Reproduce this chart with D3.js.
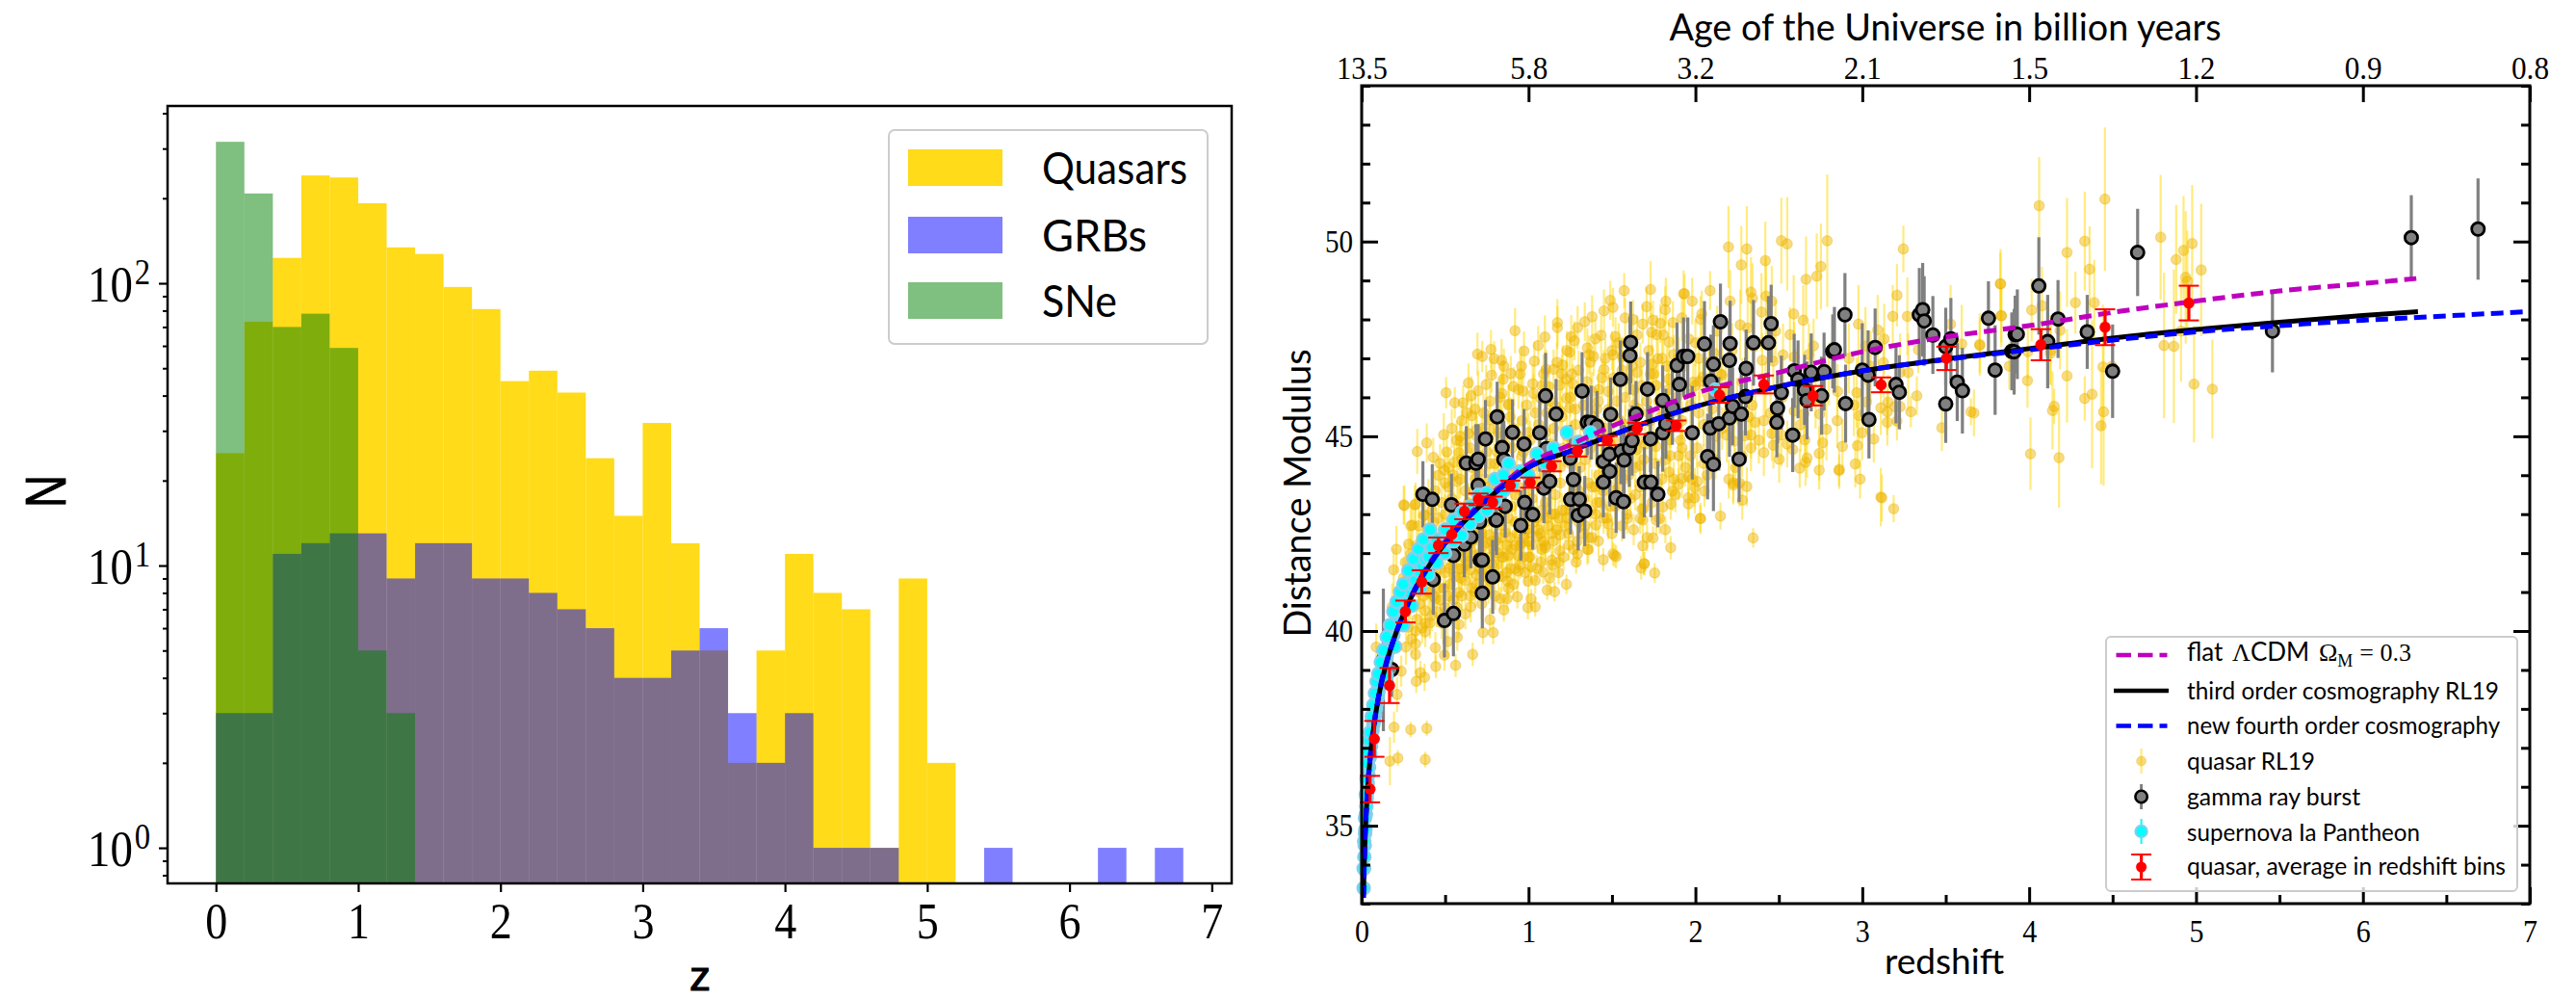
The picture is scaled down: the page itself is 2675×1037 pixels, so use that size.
<!DOCTYPE html>
<meta charset="utf-8">
<style>
    html, body { margin: 0; padding: 0; background: #fff; }
    svg { display: block; }
    .domain { display: none; }
</style>
<svg width="2675" height="1037"></svg>
<script src="https://cdn.jsdelivr.net/npm/d3@7"></script>
<script>

    // left panel: histogram counts in bins of 0.2 starting from z = 0
    var binWidth = 0.2;
    var quasarCounts = [25,73,123,241,237,192,134,127,97,81,45,49,41,24,15,32,12,5,2,5,11,8,7,1,9,2,0,0,0,0,0,0,0,0];
    var grbCounts = [3,3,11,12,13,13,9,12,12,9,9,8,7,6,4,4,5,6,3,2,3,1,1,1,0,0,0,1,0,0,0,1,0,1];
    var sneCounts = [317,208,70,78,59,5,3];
    var histLegend = ["Quasars", "GRBs", "SNe"];
    var histXTicks = [0,1,2,3,4,5,6,7];

    // right panel: top axis labels
    var ageLabels = ["13.5","5.8","3.2","2.1","1.5","1.2","0.9","0.8"];

    // right panel: model curves
    var curveZ = [0.01,0.015,0.02,0.03,0.05,0.07,0.1,0.15,0.2,0.25,0.3,0.4,0.5,0.6,0.7,0.8,1,1.25,1.5,1.75,2,2.5,3,3.5,4,4.5,5,5.5,6,6.33];
    var thirdOrder = [33.15,34.0,34.65,35.55,36.7,37.45,38.28,39.2,39.88,40.42,40.9,41.65,42.25,42.75,43.17,43.55,44.2,44.62,45.03,45.42,45.76,46.28,46.68,46.98,47.25,47.52,47.74,47.93,48.1,48.2];
    var fourthZ = [0.01,0.015,0.02,0.03,0.05,0.07,0.1,0.15,0.2,0.25,0.3,0.4,0.5,0.6,0.7,0.8,1,1.25,1.5,1.75,2,2.5,3,3.5,4,4.5,5,5.5,6,6.33,6.5,7];
    var fourthOrder = [33.15,34.0,34.65,35.55,36.7,37.45,38.28,39.2,39.88,40.42,40.9,41.65,42.25,42.75,43.17,43.55,44.2,44.62,45.03,45.42,45.76,46.28,46.68,46.97,47.22,47.47,47.68,47.84,47.98,48.05,48.09,48.2];
    var lcdmZ = [0.01,0.02,0.05,0.1,0.2,0.3,0.5,0.7,0.8,1,1.25,1.5,1.75,2,2.5,3,3.5,4,4.5,5,5.5,6,6.32];
    var lcdm = [33.15,34.65,36.7,38.28,39.88,40.92,42.3,43.22,43.6,44.28,44.78,45.26,45.68,46.1,46.64,47.17,47.55,47.84,48.18,48.47,48.73,48.92,49.05];

    // quasar averages in redshift bins: z, modulus, error
    var binnedQuasars = [
        [0.05,35.94,0.34],[0.076,37.23,0.46],[0.167,38.6,0.45],[0.262,40.5,0.28],[0.36,41.26,0.3],
        [0.46,42.2,0.2],[0.54,42.48,0.21],[0.616,43.07,0.2],[0.7,43.38,0.15],[0.785,43.3,0.15],
        [0.89,43.73,0.13],[1.01,43.81,0.13],[1.138,44.23,0.13],[1.293,44.62,0.14],[1.473,44.89,0.12],
        [1.651,45.2,0.145],[1.885,45.27,0.135],[2.145,46.06,0.2],[2.41,46.33,0.23],[2.705,46.04,0.25],
        [3.113,46.32,0.19],[3.504,47.0,0.3],[4.07,47.35,0.4],[4.455,47.8,0.46],[4.957,48.42,0.445]
    ];

    // gamma ray bursts: z, modulus, error
    var grbs = [
        [0.13,39.26,1.83],[0.179,39.01,0.7],[0.367,43.51,0.85],[0.423,43.38,0.9],[0.429,41.32,0.9],[0.496,40.27,0.95],[0.538,43.24,0.8],[0.55,40.45,1.1],[0.55,41.94,0.9],
        [0.615,42.23,0.85],[0.627,44.31,0.95],[0.654,42.41,0.8],[0.685,44.31,1.0],[0.698,44.41,0.9],[0.698,43.74,0.9],[0.707,42.8,0.85],[0.711,41.82,0.8],[0.723,41.82,0.9],[0.723,40.97,0.9],
        [0.742,44.93,1.0],[0.785,41.39,0.95],[0.804,42.85,0.8],[0.808,42.85,0.9],[0.812,45.5,0.9],[0.842,44.71,0.85],[0.852,44.4,1.0],[0.86,43.2,0.8],[0.904,45.1,0.85],[0.954,42.71,0.9],
        [0.973,44.8,0.9],[0.977,43.3,0.8],[1.025,42.99,0.9],[1.067,45.09,1.0],[1.092,43.67,0.9],[1.102,46.04,1.1],[1.106,44.68,0.95],[1.127,43.84,0.85],[1.165,45.57,0.9],
        [1.25,44.44,0.85],[1.252,43.38,0.9],[1.269,43.89,0.8],[1.298,42.97,0.9],[1.304,43.38,0.85],[1.321,46.16,1.0],[1.337,43.08,0.9],[1.352,45.36,0.85],[1.375,45.35,0.95],[1.41,45.26,0.9],
        [1.448,44.35,0.8],[1.448,43.82,0.9],[1.485,44.54,0.85],[1.487,44.1,0.9],[1.492,45.56,0.95],[1.525,43.42,0.9],[1.55,46.46,1.0],[1.554,44.62,0.85],[1.569,43.32,0.95],[1.573,44.39,0.9],
        [1.604,44.7,1.0],[1.608,47.07,1.0],[1.612,47.41,1.05],[1.621,44.89,0.9],[1.644,45.57,0.85],[1.694,43.82,0.9],[1.713,46.21,0.95],[1.731,44.93,0.85],[1.733,43.82,0.9],[1.775,43.51,0.85],
        [1.804,45.92,0.9],[1.804,45.09,1.0],[1.823,45.32,0.9],[1.862,45.73,0.95],[1.89,46.82,1.1],[1.904,46.33,0.9],[1.929,47.05,1.0],[1.954,47.05,1.0],[1.981,45.09,1.2],[2.054,47.37,1.1],
        [2.073,44.48,1.1],[2.088,45.21,0.9],[2.092,46.41,1.2],[2.108,46.85,1.0],[2.108,44.28,1.2],[2.14,45.32,1.2],[2.15,47.94,0.98],[2.204,46.95,1.0],[2.204,45.47,1.0],[2.208,47.38,1.1],
        [2.223,45.77,1.0],[2.262,44.41,1.1],[2.275,45.57,1.1],[2.3,46.02,1.0],[2.304,46.74,1.0],[2.348,47.4,1.1],[2.438,47.4,1.2],[2.454,47.89,1.0],[2.488,45.36,0.9],[2.492,45.72,0.9],
        [2.515,46.12,0.95],[2.583,45.03,0.95],[2.592,46.68,0.95],[2.615,46.46,1.0],[2.654,46.19,0.9],[2.669,45.92,1.0],[2.694,46.64,1.0],[2.756,46.04,1.0],[2.771,46.66,1.0],[2.823,47.18,0.95],
        [2.833,47.22,1.1],[2.896,48.12,1.07],[2.9,45.84,1.0],[3.0,46.7,1.2],[3.035,46.57,1.15],[3.04,45.43,1.0],[3.077,47.28,1.0],[3.202,46.33,1.0],[3.222,46.13,0.95],[3.342,48.12,1.2],
        [3.362,48.25,1.2],[3.371,47.96,1.15],[3.423,47.6,1.0],[3.5,45.83,1.0],[3.5,47.3,1.0],[3.531,47.5,1.05],[3.569,46.39,1.0],[3.6,46.17,1.1],[3.756,48.03,0.95],[3.796,46.7,1.15],
        [3.896,47.18,1.0],[3.91,47.17,1.1],[3.916,47.61,1.0],[3.929,47.62,1.15],[4.058,48.86,1.25],[4.111,47.43,1.2],[4.173,48.01,1.0],[4.348,47.68,0.95],[4.5,46.67,1.2],[4.65,49.72,1.12],
        [5.458,47.7,1.06],[6.29,50.1,1.09],[6.69,50.32,1.3]
    ];

    // supernovae Ia: z, modulus, error
    var supernovae = [
        [0.012,33.4,0.15],[0.014,33.9,0.15],[0.016,34.2,0.15],[0.018,34.5,0.15],[0.02,34.8,0.15],[0.022,34.9,0.15],[0.025,35.3,0.15],[0.028,35.5,0.15],[0.03,35.7,0.15],[0.033,35.85,0.15],
        [0.036,36.1,0.15],[0.04,36.3,0.15],[0.044,36.5,0.15],[0.048,36.75,0.15],[0.052,36.85,0.15],[0.056,37.05,0.15],[0.06,37.2,0.15],[0.065,37.45,0.15],[0.07,37.6,0.15],[0.075,37.7,0.15],
        [0.08,37.85,0.15],[0.085,38.0,0.15],[0.09,38.15,0.15],[0.095,38.3,0.15],[0.1,38.45,0.15],[0.11,38.6,0.15],[0.12,38.8,0.15],[0.13,39.0,0.15],[0.14,39.2,0.15],[0.15,39.35,0.15],
        [0.16,39.5,0.15],[0.17,39.7,0.15],[0.18,39.85,0.15],[0.19,39.9,0.15],[0.2,40.1,0.15],[0.21,40.2,0.15],[0.22,40.3,0.15],[0.23,40.45,0.15],[0.24,40.55,0.15],[0.25,40.6,0.15],
        [0.26,40.8,0.15],[0.27,40.85,0.15],[0.28,41.0,0.15],[0.3,41.2,0.15],[0.32,41.3,0.15],[0.34,41.55,0.15],[0.36,41.7,0.15],[0.38,41.85,0.15],[0.4,41.9,0.15],[0.42,42.15,0.15],
        [0.15,38.85,0.15],[0.2,39.6,0.15],[0.25,40.15,0.15],[0.3,40.65,0.15],[0.35,41.1,0.15],[0.4,41.45,0.15],[0.45,41.75,0.15],[0.5,42.0,0.15],[0.55,42.3,0.15],[0.6,42.45,0.15],
        [0.65,42.75,0.15],[0.7,42.95,0.15],[0.75,43.1,0.15],[0.45,42.35,0.15],[0.5,42.6,0.15],[0.55,42.85,0.15],[0.6,43.05,0.15],[0.65,43.2,0.15],[0.7,43.5,0.15],[0.75,43.55,0.15],
        [0.8,43.35,0.15],[0.85,43.6,0.15],[0.8,43.9,0.15],[0.85,44.0,0.15],[0.88,44.3,0.15],[0.9,43.75,0.15],[0.95,44.1,0.15],[1.0,44.0,0.15],[1.05,44.55,0.15],[1.1,44.3,0.15],
        [1.15,44.7,0.15],[1.23,45.1,0.15],[1.3,44.85,0.15],[1.37,45.1,0.15],[2.12,46.2,0.15],
        // upper edge of the low redshift band
        [0.012,33.9,0.15],[0.015,34.6,0.15],[0.02,35.2,0.15],[0.025,35.8,0.15],[0.03,36.2,0.15],[0.035,36.6,0.15],[0.04,36.9,0.15],[0.045,37.2,0.15],[0.05,37.4,0.15],[0.06,37.8,0.15],
        [0.07,38.1,0.15],[0.08,38.4,0.15],[0.09,38.7,0.15],[0.1,38.9,0.15],[0.115,39.2,0.15],[0.13,39.5,0.15],[0.15,39.85,0.15],[0.17,40.15,0.15],[0.19,40.5,0.15],[0.21,40.75,0.15],
        [0.23,41.0,0.15],[0.25,41.2,0.15],[0.28,41.55,0.15],[0.31,41.85,0.15],[0.34,42.1,0.15],[0.37,42.35,0.15],[0.41,42.6,0.15]
    ];

    // quasars RL19: z, modulus, error
    var quasars = [
        [0.087,39.59,0.6],[0.169,36.66,0.62],[0.183,40.62,0.6],[0.192,41.57,0.55],[0.194,37.53,0.4],[0.208,42.1,0.6],[0.212,38.37,0.45],[0.217,36.74,0.2],[0.237,38.97,0.4],[0.25,41.36,0.5],
        [0.252,43.24,0.5],[0.256,43.22,0.5],[0.262,41.77,0.5],[0.265,39.59,0.45],[0.281,42.23,0.45],[0.294,41.98,0.5],[0.294,42.7,0.5],[0.294,37.47,0.2],[0.304,42.72,0.55],[0.319,43.24,0.5],
        [0.323,43.26,0.55],[0.323,40.0,0.4],[0.323,39.67,0.45],[0.323,39.4,0.5],[0.327,38.71,0.3],[0.333,44.61,0.58],[0.342,42.7,0.5],[0.352,38.93,0.3],[0.362,40.08,0.4],[0.371,42.97,0.45],
        [0.377,38.81,0.35],[0.381,42.97,0.5],[0.381,40.52,0.5],[0.381,39.98,0.4],[0.381,36.7,0.2],[0.39,44.83,0.5],[0.39,37.5,0.2],[0.41,40.21,0.4],[0.429,44.46,0.5],[0.442,40.83,0.5],
        [0.442,39.57,0.4],[0.444,39.09,0.3],[0.492,45.04,0.55],[0.496,44.13,0.5],[0.496,39.38,0.4],[0.506,46.12,0.4],[0.515,39.73,0.45],[0.525,41.61,0.5],[0.554,44.33,0.5],[0.558,45.86,0.4],
        [0.563,39.12,0.3],[0.573,43.84,0.5],[0.573,39.84,0.35],[0.583,44.58,0.45],[0.583,40.17,0.35],[0.583,40.99,0.5],[0.592,44.87,0.5],[0.592,41.36,0.5],[0.608,45.86,0.45],[0.621,40.44,0.4],
        [0.64,46.37,0.5],[0.64,45.07,0.5],[0.65,41.57,0.45],[0.654,40.62,0.4],[0.656,46.04,0.5],[0.66,45.53,0.45],[0.665,39.4,0.3],[0.679,41.94,0.5],[0.688,45.16,0.5],[0.688,41.44,0.5],
        [0.694,47.11,0.55],[0.698,46.17,0.5],[0.723,47.05,0.4],[0.727,39.96,0.3],[0.746,46.33,0.5],[0.746,42.27,0.5],[0.765,45.42,0.5],[0.765,42.47,0.5],[0.769,40.29,0.3],[0.775,47.23,0.5],
        [0.779,46.57,0.45],[0.788,39.96,0.3],[0.794,46.99,0.45],[0.804,42.31,0.5],[0.823,45.57,0.5],[0.833,40.83,0.3],[0.838,46.95,0.55],[0.842,41.9,0.45],[0.848,46.46,0.5],[0.852,46.8,0.45],
        [0.852,40.54,0.3],[0.862,42.52,0.5],[0.871,40.83,0.3],[0.875,41.28,0.35],[0.881,45.83,0.5],[0.881,41.94,0.4],[0.894,46.61,0.45],[0.9,42.1,0.4],[0.91,46.28,0.5],[0.919,47.71,0.58],
        [0.933,40.88,0.3],[0.938,41.94,0.4],[0.938,41.54,0.35],[0.958,46.8,0.5],[0.958,42.27,0.45],[0.967,46.16,0.5],[0.973,47.19,0.5],[0.996,42.52,0.45],[0.996,40.6,0.3],[0.998,41.28,0.4],
        [1.015,40.83,0.25],[1.015,41.65,0.4],[1.025,46.35,0.5],[1.035,46.93,0.5],[1.04,40.62,0.25],[1.054,42.43,0.45],[1.058,47.33,0.5],[1.073,45.98,0.5],[1.073,41.77,0.35],[1.088,41.51,0.3],
        [1.098,47.55,0.55],[1.102,42.14,0.45],[1.106,46.72,0.5],[1.112,41.05,0.25],[1.121,46.27,0.5],[1.127,41.36,0.35],[1.14,41.82,0.35],[1.15,46.72,0.5],[1.15,42.31,0.45],[1.156,41.01,0.25],
        [1.16,45.77,0.5],[1.173,47.92,0.6],[1.173,47.79,0.55],[1.179,41.77,0.35],[1.188,46.31,0.5],[1.188,45.65,0.5],[1.188,42.47,0.4],[1.188,42.06,0.4],[1.204,46.83,0.5],[1.227,46.47,0.5],
        [1.227,45.98,0.5],[1.227,41.2,0.25],[1.242,42.21,0.4],[1.246,47.16,0.5],[1.246,45.73,0.5],[1.256,47.56,0.55],[1.265,46.35,0.5],[1.275,47.45,0.5],[1.285,41.77,0.3],[1.294,47.79,0.55],
        [1.294,41.98,0.35],[1.337,47.94,0.5],[1.352,47.27,0.5],[1.352,42.1,0.4],[1.358,42.09,0.35],[1.362,47.09,0.5],[1.381,48.07,0.55],[1.381,46.15,0.5],[1.39,47.05,0.5],[1.404,42.72,0.45],
        [1.419,45.9,0.5],[1.419,42.31,0.4],[1.435,47.59,0.5],[1.448,41.83,0.3],[1.452,48.22,0.55],[1.452,46.72,0.5],[1.477,46.15,0.5],[1.477,42.75,0.4],[1.49,48.49,0.5],[1.506,48.31,0.5],
        [1.506,47.09,0.5],[1.506,41.98,0.3],[1.515,41.94,0.3],[1.521,47.56,0.5],[1.525,41.91,0.3],[1.563,47.05,0.5],[1.573,48.74,0.45],[1.579,48.04,0.5],[1.592,46.47,0.5],[1.592,42.89,0.4],
        [1.627,48.0,0.5],[1.631,46.19,0.5],[1.65,46.64,0.5],[1.65,44.66,0.5],[1.669,44.25,0.5],[1.669,42.89,0.4],[1.675,41.62,0.3],[1.679,43.13,0.4],[1.685,47.88,0.5],[1.685,42.85,0.35],
        [1.685,42.19,0.3],[1.688,43.14,0.4],[1.692,41.73,0.3],[1.694,41.73,0.3],[1.708,48.33,0.5],[1.708,45.9,0.5],[1.731,48.77,0.73],[1.737,47.67,0.5],[1.742,46.85,0.5],[1.746,47.98,0.5],
        [1.746,42.39,0.3],[1.756,41.49,0.25],[1.765,46.31,0.5],[1.765,44.74,0.45],[1.765,42.85,0.4],[1.769,47.61,0.5],[1.775,46.99,0.5],[1.785,42.89,0.4],[1.804,43.18,0.45],[1.808,47.6,0.5],
        [1.819,48.25,0.6],[1.823,48.47,0.6],[1.842,47.42,0.5],[1.842,46.47,0.5],[1.842,44.91,0.5],[1.842,44.08,0.5],[1.852,43.26,0.4],[1.852,42.14,0.3],[1.862,43.59,0.5],[1.865,47.92,0.55],
        [1.9,44.5,0.5],[1.9,43.77,0.4],[1.919,48.04,0.6],[1.919,43.92,0.5],[1.929,48.66,0.6],[1.935,48.66,0.5],[1.958,43.96,0.5],[1.958,43.42,0.5],[1.958,43.26,0.4],[1.981,48.47,0.6],
        [1.987,46.39,0.5],[1.996,43.69,0.5],[1.996,43.42,0.4],[2.012,43.84,0.5],[2.025,46.41,0.5],[2.029,42.89,0.35],[2.031,48.0,0.6],[2.031,42.89,0.4],[2.038,48.14,0.6],[2.044,46.52,0.5],
        [2.054,43.59,0.4],[2.088,48.74,0.5],[2.112,47.13,0.7],[2.15,42.95,0.35],[2.159,46.57,0.7],[2.188,45.03,0.7],[2.198,49.86,1.05],[2.208,48.47,0.8],[2.227,43.8,0.5],[2.227,43.75,0.5],
        [2.233,44.87,0.6],[2.265,43.8,0.6],[2.269,47.86,0.9],[2.275,49.4,1.0],[2.281,43.36,0.5],[2.294,45.01,0.7],[2.308,49.81,1.1],[2.308,43.71,0.5],[2.313,47.78,1.0],[2.333,48.7,0.9],
        [2.333,45.03,0.6],[2.333,44.7,0.6],[2.342,48.54,0.9],[2.346,42.39,0.25],[2.358,45.36,0.7],[2.396,48.19,1.0],[2.4,46.95,0.7],[2.41,45.4,0.7],[2.41,44.58,0.6],[2.419,49.51,1.0],
        [2.423,48.6,1.0],[2.458,48.47,0.9],[2.458,45.07,0.7],[2.467,46.93,0.8],[2.467,44.77,0.6],[2.502,44.41,0.6],[2.515,50.02,1.1],[2.515,45.03,0.8],[2.525,47.09,0.8],[2.55,49.94,1.2],
        [2.567,47.61,0.7],[2.583,44.66,0.5],[2.589,48.14,1.0],[2.592,47.04,0.9],[2.592,45.65,0.8],[2.625,44.18,0.5],[2.646,47.98,0.9],[2.65,45.57,0.7],[2.656,44.91,0.7],[2.663,49.03,1.1],
        [2.66,44.33,0.6],[2.669,44.44,0.5],[2.708,47.32,0.7],[2.727,49.11,1.1],[2.742,44.56,0.7],[2.742,44.13,0.5],[2.746,45.57,0.8],[2.752,49.36,1.1],[2.762,44.83,0.6],[2.785,45.18,0.8],
        [2.79,50.02,1.7],[2.852,46.15,0.7],[2.861,44.12,0.4],[2.862,44.15,0.5],[2.881,44.74,0.7],[2.958,44.29,0.6],[2.967,46.12,0.9],[2.971,44.76,0.6],[2.977,47.88,1.0],[2.981,45.53,0.7],
        [2.987,43.9,0.5],[2.999,45.09,0.7],[3.019,47.32,1.0],[3.025,45.88,0.8],[3.069,44.93,0.6],[3.092,47.73,0.9],[3.111,45.73,0.7],[3.111,43.44,0.75],[3.117,43.42,0.6],[3.127,46.89,0.9],
        [3.131,47.5,0.9],[3.15,45.63,0.6],[3.15,45.36,0.6],[3.154,45.88,0.7],[3.183,48.08,0.8],[3.188,43.14,0.35],[3.196,45.76,0.5],[3.208,48.62,0.8],[3.208,45.39,0.5],[3.227,46.64,1.0],
        [3.227,45.76,0.6],[3.246,49.81,0.6],[3.27,48.08,1.0],[3.275,46.64,1.0],[3.291,45.63,0.4],[3.327,46.04,0.5],[3.336,47.22,0.6],[3.477,45.22,0.6],[3.529,47.88,1.0],[3.596,47.37,1.0],
        [3.651,45.63,0.35],[3.669,45.6,0.6],[3.704,47.33,0.7],[3.704,47.36,0.8],[3.827,48.92,0.8],[3.829,48.91,0.9],[3.833,48.1,0.7],[3.833,48.09,0.8],[3.881,46.8,0.6],[3.99,46.43,0.7],
        [3.992,47.17,0.7],[4.008,44.55,0.93],[4.015,48.24,0.8],[4.06,50.92,1.25],[4.077,48.35,1.0],[4.127,47.13,0.8],[4.13,47.21,0.9],[4.14,45.66,1.0],[4.15,45.77,0.45],[4.179,44.45,1.28],
        [4.185,47.72,1.0],[4.227,49.72,1.4],[4.227,46.55,1.2],[4.277,48.43,0.8],[4.333,50.01,1.27],[4.333,45.97,0.57],[4.362,49.29,1.1],[4.377,46.08,1.9],[4.39,48.43,1.1],[4.431,45.27,1.5],
        [4.442,46.78,1.6],[4.446,45.63,1.9],[4.454,51.09,1.84],[4.496,46.8,0.6],[4.788,50.11,1.6],[4.808,47.33,1.87],[4.867,47.31,1.97],[4.881,49.54,1.4],[4.91,47.7,1.3],[4.925,49.77,1.4],
        [4.938,49.08,1.7],[4.948,48.98,1.3],[4.977,49.95,1.5],[4.988,46.34,1.5],[5.031,49.27,1.7],[5.098,46.21,1.27],
        // the dense middle of the cloud, estimated
        [0.28,40.1,0.5],[0.31,41.4,0.5],[0.34,41.0,0.5],[0.36,42.1,0.5],[0.39,41.3,0.5],[0.4,42.6,0.5],[0.42,43.1,0.5],[0.43,40.9,0.5],[0.45,42.0,0.5],[0.46,44.0,0.5],
        [0.47,41.6,0.5],[0.48,43.3,0.5],[0.49,42.6,0.5],[0.5,40.6,0.45],[0.51,44.6,0.5],[0.52,43.7,0.5],[0.53,42.0,0.45],[0.54,45.2,0.5],[0.55,43.1,0.5],[0.56,41.4,0.45],
        [0.57,44.9,0.5],[0.58,42.6,0.5],[0.59,43.9,0.5],[0.6,45.4,0.5],[0.61,41.9,0.45],[0.62,44.3,0.5],[0.63,43.0,0.5],[0.64,42.3,0.45],[0.65,44.7,0.5],[0.66,41.1,0.4],
        [0.67,43.6,0.5],[0.68,45.7,0.5],[0.69,42.7,0.5],[0.7,44.1,0.5],[0.71,41.6,0.45],[0.72,45.2,0.5],[0.73,42.2,0.45],[0.74,43.9,0.5],[0.75,44.6,0.5],[0.76,41.1,0.4],
        [0.77,45.9,0.5],[0.78,42.9,0.5],[0.79,43.7,0.5],[0.8,44.3,0.5],[0.81,41.7,0.45],[0.82,45.1,0.5],[0.83,42.4,0.45],[0.84,46.1,0.5],[0.85,43.2,0.5],[0.86,44.8,0.5],
        [0.87,41.5,0.4],[0.88,42.9,0.45],[0.89,45.5,0.5],[0.9,44.2,0.5],[0.91,41.2,0.35],[0.92,43.5,0.5],[0.93,42.5,0.45],[0.94,45.0,0.5],[0.95,46.6,0.5],[0.96,44.5,0.5],
        [0.97,41.9,0.4],[0.98,43.0,0.45],[0.99,45.8,0.5],[1.0,42.3,0.45],[1.01,44.9,0.5],[1.02,43.4,0.5],[1.03,46.1,0.5],[1.04,41.3,0.35],[1.05,42.9,0.45],[1.06,45.3,0.5],
        [1.07,44.4,0.5],[1.08,42.1,0.4],[1.09,46.6,0.5],[1.1,43.3,0.5],[1.11,45.6,0.5],[1.12,42.7,0.45],[1.13,44.8,0.5],[1.14,41.7,0.35],[1.15,45.2,0.5],[1.16,43.5,0.5],
        [1.17,46.9,0.5],[1.18,42.9,0.45],[1.19,44.2,0.5],[1.2,45.5,0.5],[1.21,41.9,0.35],[1.22,43.1,0.45],[1.23,47.2,0.5],[1.24,42.5,0.4],[1.25,46.0,0.5],[1.26,44.9,0.5],
        [1.27,43.6,0.5],[1.28,45.3,0.5],[1.29,42.3,0.4],[1.3,46.7,0.5],[1.31,44.2,0.5],[1.32,43.0,0.45],[1.33,45.8,0.5],[1.34,42.7,0.4],[1.35,46.4,0.5],[1.36,43.8,0.5],
        [1.37,44.7,0.5],[1.38,42.4,0.4],[1.39,45.5,0.5],[1.4,47.5,0.5],[1.41,43.3,0.45],[1.42,46.2,0.5],[1.43,44.3,0.5],[1.44,45.0,0.5],[1.45,42.9,0.4],[1.46,47.0,0.5],
        [1.47,43.8,0.5],[1.48,45.7,0.5],[1.49,44.8,0.5],[1.5,42.5,0.4],[1.51,46.5,0.5],[1.52,43.2,0.45],[1.53,44.1,0.5],[1.54,47.4,0.5],[1.55,45.4,0.5],[1.56,42.7,0.4],
        [1.57,43.9,0.45],[1.58,46.0,0.5],[1.59,44.6,0.5],[1.6,45.1,0.5],[1.61,43.4,0.45],[1.62,46.8,0.5],[1.63,42.6,0.4],[1.64,44.2,0.5],[1.65,47.6,0.5],[1.66,45.7,0.5],
        [1.67,43.7,0.45],[1.68,46.3,0.5],[1.7,44.8,0.5],[1.71,42.4,0.35],[1.72,47.2,0.5],[1.73,45.4,0.5],[1.74,43.3,0.45],[1.75,46.6,0.5],[1.76,44.3,0.5],[1.78,45.9,0.5],
        [1.79,47.9,0.5],[1.8,43.9,0.45],[1.81,45.1,0.5],[1.82,42.6,0.35],[1.83,46.8,0.5],[1.85,44.5,0.5],[1.86,45.6,0.5],[1.87,47.1,0.5],[1.88,43.5,0.45],[1.89,46.0,0.5],
        [1.91,44.9,0.5],[1.92,45.4,0.5],[1.93,46.8,0.5],[1.94,44.2,0.5],[1.96,47.5,0.55],[1.97,45.8,0.5],[1.98,43.9,0.5],[2.0,46.3,0.55],[2.01,44.7,0.5],[2.02,47.0,0.55],
        [2.05,45.3,0.55],[2.07,44.0,0.5],[2.08,46.9,0.6],[2.1,45.7,0.55],[2.12,44.4,0.5],[2.13,47.7,0.65],[2.16,45.2,0.55],[2.18,46.2,0.6],[2.2,43.9,0.5],[2.22,47.2,0.7],
        [2.25,45.9,0.6],[2.28,44.5,0.55],[2.3,46.7,0.7],[2.32,45.5,0.6],[2.35,47.3,0.7],[2.38,44.9,0.6],[2.42,46.2,0.7],[2.45,45.6,0.65],[2.48,47.7,0.8],[2.52,46.0,0.7],
        [2.55,44.8,0.6],[2.6,46.5,0.75],[2.63,45.3,0.7],[2.68,47.1,0.8],[2.72,45.9,0.7],[2.8,46.6,0.8],[2.85,45.4,0.7],[2.92,47.0,0.9],[2.95,45.8,0.8],[3.05,46.8,0.9],
        // more of the same cloud, estimated
        [0.33,42.2,0.5],[0.35,40.7,0.45],[0.37,41.9,0.5],[0.38,42.4,0.5],[0.4,43.4,0.5],[0.41,41.0,0.45],[0.43,42.8,0.5],[0.44,43.6,0.5],[0.44,41.4,0.45],[0.46,42.9,0.5],
        [0.47,44.3,0.5],[0.48,40.2,0.4],[0.49,41.1,0.45],[0.5,43.0,0.5],[0.5,43.8,0.5],[0.52,44.2,0.5],[0.52,42.4,0.45],[0.53,41.2,0.45],[0.54,43.4,0.5],[0.55,44.0,0.5],
        [0.56,42.2,0.45],[0.57,40.6,0.4],[0.58,43.2,0.5],[0.59,45.0,0.5],[0.6,41.6,0.45],[0.6,44.4,0.5],[0.61,42.8,0.5],[0.62,43.6,0.5],[0.63,45.6,0.5],[0.64,41.8,0.45],
        [0.64,43.3,0.5],[0.65,42.1,0.45],[0.66,44.2,0.5],[0.67,42.6,0.5],[0.68,41.0,0.4],[0.68,43.9,0.5],[0.69,45.0,0.5],[0.7,41.9,0.45],[0.7,42.4,0.45],[0.71,44.5,0.5],
        [0.72,43.4,0.5],[0.72,40.7,0.4],[0.73,45.6,0.5],[0.74,42.8,0.5],[0.75,41.4,0.4],[0.75,45.0,0.5],[0.76,43.7,0.5],[0.77,44.3,0.5],[0.77,41.9,0.4],[0.78,42.3,0.45],
        [0.79,45.2,0.5],[0.8,43.0,0.5],[0.8,40.9,0.35],[0.81,44.6,0.5],[0.82,41.4,0.4],[0.82,43.9,0.5],[0.83,46.0,0.5],[0.84,42.7,0.45],[0.85,45.0,0.5],[0.85,41.9,0.4],
        [0.86,43.6,0.5],[0.87,44.3,0.5],[0.88,41.1,0.35],[0.88,45.8,0.5],[0.89,42.4,0.45],[0.9,44.7,0.5],[0.9,43.2,0.5],[0.91,45.2,0.5],[0.92,41.6,0.4],[0.92,42.8,0.45],
        [0.93,44.0,0.5],[0.94,46.2,0.5],[0.94,43.7,0.5],[0.95,42.2,0.4],[0.96,45.4,0.5],[0.97,43.3,0.5],[0.97,44.6,0.5],[0.98,41.5,0.35],[0.99,42.6,0.45],[1.0,45.1,0.5],
        [1.0,43.6,0.5],[1.01,41.9,0.4],[1.02,44.2,0.5],[1.03,42.8,0.45],[1.04,45.6,0.5],[1.05,43.8,0.5],[1.05,41.6,0.35],[1.06,44.6,0.5],[1.07,42.5,0.45],[1.08,46.3,0.5],
        [1.08,43.1,0.5],[1.09,44.0,0.5],[1.1,45.1,0.5],[1.1,42.2,0.4],[1.12,43.7,0.5],[1.13,45.9,0.5],[1.14,42.5,0.4],[1.15,44.4,0.5],[1.16,43.0,0.45],[1.17,45.5,0.5],
        [1.18,41.5,0.3],[1.19,43.8,0.5],[1.2,46.6,0.5],[1.21,44.7,0.5],[1.22,42.7,0.4],[1.23,45.0,0.5],[1.24,43.4,0.45],[1.25,44.3,0.5],[1.26,46.6,0.5],[1.27,42.1,0.35],
        [1.28,45.7,0.5],[1.29,43.9,0.5],[1.3,42.8,0.4],[1.31,44.9,0.5],[1.32,46.2,0.5],[1.33,43.4,0.45],[1.34,44.4,0.5],[1.35,45.2,0.5],[1.36,42.4,0.35],[1.37,46.9,0.5],
        [1.38,43.7,0.45],[1.39,44.9,0.5],[1.4,43.0,0.4],[1.41,45.7,0.5],[1.42,44.0,0.5],[1.44,46.5,0.5],[1.45,43.6,0.45],[1.46,45.2,0.5],[1.47,44.4,0.5],[1.49,43.2,0.4],
        [1.5,47.2,0.5],[1.51,44.9,0.5],[1.53,45.9,0.5],[1.54,43.7,0.45],[1.55,44.3,0.5],[1.56,46.7,0.5],[1.58,45.3,0.5],[1.59,43.0,0.4],[1.6,44.0,0.45],[1.61,47.0,0.5],
        [1.63,45.8,0.5],[1.64,43.5,0.4],[1.66,44.9,0.5],[1.67,46.9,0.5],[1.69,44.4,0.45],[1.7,43.9,0.45],[1.72,45.6,0.5],[1.73,46.6,0.5],[1.75,44.9,0.5],[1.77,43.8,0.4],
        [1.79,45.5,0.5],[1.8,47.0,0.5],[1.82,44.4,0.5],[1.84,46.2,0.5],[1.85,45.2,0.5],[1.87,43.9,0.45],[1.9,47.0,0.55],[1.92,44.7,0.5],[1.95,46.1,0.5],[1.97,44.5,0.5],
        [2.0,47.4,0.6],[2.02,45.6,0.55],[2.05,44.3,0.5],[2.08,46.0,0.55],[2.12,45.0,0.55],[2.15,46.6,0.6],[2.2,45.6,0.6],[2.24,44.2,0.5],[2.28,46.4,0.6],[2.34,45.8,0.6],
        // lower part of the cloud near the curve
        [0.26,40.9,0.45],[0.27,41.3,0.45],[0.29,40.6,0.45],[0.3,39.8,0.4],[0.3,41.0,0.45],[0.32,41.7,0.45],[0.33,40.3,0.4],[0.35,41.4,0.45],[0.37,40.9,0.4],[0.38,40.2,0.4],
        [0.4,41.0,0.45],[0.4,41.9,0.45],[0.42,40.4,0.4],[0.44,42.1,0.45],[0.45,40.5,0.4],[0.46,41.1,0.45],[0.47,40.8,0.4],[0.48,42.3,0.45],[0.5,41.5,0.45],[0.52,40.9,0.4],
        [0.54,41.7,0.45],[0.55,40.8,0.4],[0.57,42.0,0.45],[0.58,41.6,0.45],[0.6,40.9,0.4],[0.62,41.3,0.4],[0.63,41.7,0.45],[0.65,40.9,0.4],[0.66,42.3,0.45],[0.69,41.2,0.4],
        [0.71,42.0,0.45],[0.72,42.5,0.45],[0.74,41.6,0.4],[0.77,41.3,0.4],[0.78,41.7,0.4],[0.79,42.1,0.45],[0.82,42.0,0.4],[0.84,41.4,0.4],[0.87,42.2,0.4],[0.89,41.6,0.35],
        [0.92,42.2,0.4],[0.95,41.7,0.35],[0.97,42.4,0.4],[1.0,41.9,0.35],[1.02,42.2,0.4],[1.06,42.6,0.4],[1.09,42.3,0.4],[1.11,42.9,0.4],[1.14,43.0,0.45],[1.17,42.6,0.4],
        [1.2,43.1,0.45],[1.23,42.9,0.4],[1.26,43.2,0.45],[1.3,43.6,0.45],[1.33,42.5,0.35],[1.37,43.1,0.4],[1.4,43.7,0.45],[1.43,43.3,0.4],[1.47,42.9,0.35],[1.51,43.6,0.4]
    ];

    var fontMath = "'Liberation Serif', serif";
    var fontSans = "Lato, 'Open Sans', sans-serif";
    var fontLabel = "'Liberation Sans', sans-serif";

    var svg = d3.select("svg");

    function addText(g, x, y, str, size, family, width, anchor) {
        var t = g.append("text")
            .attr("x", x)
            .attr("y", y)
            .attr("font-family", family)
            .attr("font-size", size)
            .attr("text-anchor", anchor || "start")
            .attr("fill", "#000")
            .text(str);
        if (width) t.attr("textLength", width).attr("lengthAdjust", "spacingAndGlyphs");
        return t;
    }

    function styleAxis(sel, width) {
        sel.selectAll(".tick line").attr("stroke", "#000").attr("stroke-width", width);
    }

    // ---------- left panel ----------
    var left = svg.append("g");

    var histX = d3.scaleLinear().domain([-0.34, 7.14]).range([174, 1279]);
    var histY = d3.scaleLog().domain([Math.pow(10, -0.126), Math.pow(10, 2.628)]).range([917, 110]);

    function drawBars(counts, colour, opacity) {
        left.append("g").selectAll("rect")
            .data(counts.map(function(c, i) { return {i: i, c: c}; }).filter(function(d) { return d.c > 0; }))
            .enter().append("rect")
            .attr("x", function(d) { return histX(d.i * binWidth); })
            .attr("width", function(d) { return histX((d.i + 1) * binWidth) - histX(d.i * binWidth); })
            .attr("y", function(d) { return histY(d.c); })
            .attr("height", function(d) { return 917 - histY(d.c); })
            .attr("fill", colour)
            .attr("fill-opacity", opacity);
    }

    drawBars(quasarCounts, "#ffd700", 0.9);
    drawBars(grbCounts, "#0000ff", 0.5);
    drawBars(sneCounts, "#008000", 0.5);

    left.append("rect").attr("x", 174).attr("y", 110).attr("width", 1105).attr("height", 807)
        .attr("fill", "none").attr("stroke", "#000").attr("stroke-width", 2.5);

    var histXAxis = left.append("g").attr("transform", "translate(0,917)")
        .call(d3.axisBottom(histX).tickValues(histXTicks).tickSize(9).tickSizeOuter(0).tickPadding(6));
    styleAxis(histXAxis, 2.2);
    histXAxis.selectAll("text")
        .attr("font-family", fontMath).attr("font-size", 53).attr("fill", "#000")
        .attr("y", 19)
        .attr("textLength", 23).attr("lengthAdjust", "spacingAndGlyphs");

    var logMinor = [0.8,0.9,2,3,4,5,6,7,8,9,20,30,40,50,60,70,80,90,200,300,400];
    var logMajor = [1,10,100];
    var histYMinor = left.append("g").attr("transform", "translate(174,0)")
        .call(d3.axisLeft(histY).tickValues(logMinor).tickSize(5).tickFormat("").tickSizeOuter(0));
    styleAxis(histYMinor, 2);
    var histYMajor = left.append("g").attr("transform", "translate(174,0)")
        .call(d3.axisLeft(histY).tickValues(logMajor).tickSize(9).tickFormat("").tickSizeOuter(0));
    styleAxis(histYMajor, 2.2);

    logMajor.forEach(function(v, i) {
        var t = addText(left, 156, histY(v) + 19, "10", 53, fontMath, 65, "end");
        t.append("tspan").attr("font-size", 37).attr("dy", -18).attr("dx", 2).text(String(i));
    });

    addText(left, 0, 0, "N", 60, fontLabel, 34, "middle")
        .attr("transform", "translate(68,510) rotate(-90)")
        .attr("stroke", "#000").attr("stroke-width", 0.8);
    addText(left, 727, 1028, "z", 42, fontLabel, 22, "middle").attr("stroke", "#000").attr("stroke-width", 1);

    // hist legend
    var histLegendG = left.append("g");
    histLegendG.append("rect").attr("x", 923).attr("y", 135).attr("width", 331).attr("height", 222).attr("rx", 6)
        .attr("fill", "#fff").attr("fill-opacity", 0.8).attr("stroke", "#ccc").attr("stroke-width", 2);
    var histSwatch = [["#ffd700", 0.9, 174, 151], ["#0000ff", 0.5, 244, 109], ["#008000", 0.5, 312, 78]];
    histSwatch.forEach(function(s, i) {
        histLegendG.append("rect").attr("x", 943).attr("y", s[2] - 19).attr("width", 98).attr("height", 38)
            .attr("fill", s[0]).attr("fill-opacity", s[1]);
        addText(histLegendG, 1082, s[2] + 17, histLegend[i], 47, fontSans, s[3]);
    });

    // ---------- right panel ----------
    var right = svg.append("g");

    var x = d3.scaleLinear().domain([0, 7]).range([1414, 2627]);
    var y = d3.scaleLinear().domain([33, 54]).range([938, 89]);

    function px(d) { return x(d[0]); }
    function py(d) { return y(d[1]); }

    function errorLines(rows, colour, opacity, width) {
        right.append("g").selectAll("line").data(rows).enter().append("line")
            .attr("x1", px).attr("x2", px)
            .attr("y1", function(d) { return y(d[1] - d[2]); })
            .attr("y2", function(d) { return y(d[1] + d[2]); })
            .attr("stroke", colour).attr("stroke-opacity", opacity).attr("stroke-width", width);
    }

    errorLines(quasars, "#ffd700", 0.5, 2.2);
    right.append("g").selectAll("circle").data(quasars).enter().append("circle")
        .attr("cx", px).attr("cy", py).attr("r", 5.3)
        .attr("fill", "#eeb500").attr("fill-opacity", 0.48)
        .attr("stroke", "#e8b000").attr("stroke-opacity", 0.35).attr("stroke-width", 1.2);

    errorLines(grbs, "#808080", 1, 3.2);
    right.append("g").selectAll("circle").data(grbs).enter().append("circle")
        .attr("cx", px).attr("cy", py).attr("r", 6.6)
        .attr("fill", "#808080").attr("stroke", "#000").attr("stroke-width", 2.8);

    errorLines(supernovae, "#00ffff", 1, 2);
    right.append("g").selectAll("circle").data(supernovae).enter().append("circle")
        .attr("cx", px).attr("cy", py).attr("r", 6.4)
        .attr("fill", "#00ffff").attr("stroke", "#87ceeb").attr("stroke-width", 2.4);

    function curve(zs, mus, colour, dash) {
        var line = d3.line()
            .x(function(d) { return x(d[0]); })
            .y(function(d) { return y(d[1]); })
            .curve(d3.curveMonotoneX);
        var p = right.append("path")
            .attr("d", line(zs.map(function(z, i) { return [z, mus[i]]; })))
            .attr("fill", "none").attr("stroke", colour).attr("stroke-width", 5);
        if (dash) p.attr("stroke-dasharray", dash);
    }

    curve(lcdmZ, lcdm, "#bf00bf", "13,7");
    curve(curveZ, thirdOrder, "#000", null);
    curve(fourthZ, fourthOrder, "#0000ff", "13,7");

    // binned quasars with caps
    errorLines(binnedQuasars, "#ff0000", 1, 3.2);
    var caps = right.append("g");
    [-1, 1].forEach(function(side) {
        caps.selectAll("line.cap" + side).data(binnedQuasars).enter().append("line")
            .attr("class", "cap" + side)
            .attr("x1", function(d) { return x(d[0]) - 10.5; })
            .attr("x2", function(d) { return x(d[0]) + 10.5; })
            .attr("y1", function(d) { return y(d[1] + side * d[2]); })
            .attr("y2", function(d) { return y(d[1] + side * d[2]); })
            .attr("stroke", "#ff0000").attr("stroke-width", 2);
    });
    right.append("g").selectAll("circle").data(binnedQuasars).enter().append("circle")
        .attr("cx", px).attr("cy", py).attr("r", 5.8).attr("fill", "#ff0000");

    // frame and axes
    right.append("rect").attr("x", 1414).attr("y", 89).attr("width", 1213).attr("height", 849)
        .attr("fill", "none").attr("stroke", "#000").attr("stroke-width", 3);

    var majorX = d3.range(0, 8);
    var minorX = [0.5,1.5,2.5,3.5,4.5,5.5,6.5];
    var majorY = [35,40,45,50];
    var minorY = d3.range(33, 55).filter(function(v) { return majorY.indexOf(v) < 0; });

    var xBottom = right.append("g").attr("transform", "translate(0,938)")
        .call(d3.axisBottom(x).tickValues(majorX).tickSizeInner(-17).tickSizeOuter(0).tickPadding(8).tickFormat(d3.format("d")));
    styleAxis(xBottom, 3);
    xBottom.selectAll("text").attr("font-family", fontMath).attr("font-size", 33).attr("fill", "#000")
        .attr("y", 17).attr("textLength", 15).attr("lengthAdjust", "spacingAndGlyphs");
    var xBottomMinor = right.append("g").attr("transform", "translate(0,938)")
        .call(d3.axisBottom(x).tickValues(minorX).tickSizeInner(-9).tickSizeOuter(0).tickFormat(""));
    styleAxis(xBottomMinor, 3);

    var xTop = right.append("g").attr("transform", "translate(0,89)")
        .call(d3.axisTop(x).tickValues(majorX).tickSizeInner(-17).tickSizeOuter(0).tickPadding(7)
            .tickFormat(function(d, i) { return ageLabels[i]; }));
    styleAxis(xTop, 3);
    xTop.selectAll("text").attr("font-family", fontMath).attr("font-size", 33).attr("fill", "#000")
        .attr("y", -7)
        .attr("textLength", function(d, i) { return ageLabels[i].length > 3 ? 53 : 39; })
        .attr("lengthAdjust", "spacingAndGlyphs");

    var yLeft = right.append("g").attr("transform", "translate(1414,0)")
        .call(d3.axisLeft(y).tickValues(majorY).tickSizeInner(-17).tickSizeOuter(0).tickPadding(9).tickFormat(d3.format("d")));
    styleAxis(yLeft, 3);
    yLeft.selectAll("text").attr("font-family", fontMath).attr("font-size", 33).attr("fill", "#000")
        .attr("textLength", 29).attr("lengthAdjust", "spacingAndGlyphs");
    var yLeftMinor = right.append("g").attr("transform", "translate(1414,0)")
        .call(d3.axisLeft(y).tickValues(minorY).tickSizeInner(-9).tickSizeOuter(0).tickFormat(""));
    styleAxis(yLeftMinor, 3);

    var yRight = right.append("g").attr("transform", "translate(2627,0)")
        .call(d3.axisRight(y).tickValues(majorY).tickSizeInner(-17).tickSizeOuter(0).tickFormat(""));
    styleAxis(yRight, 3);
    var yRightMinor = right.append("g").attr("transform", "translate(2627,0)")
        .call(d3.axisRight(y).tickValues(minorY).tickSizeInner(-9).tickSizeOuter(0).tickFormat(""));
    styleAxis(yRightMinor, 3);

    // axis titles
    addText(right, 2020, 42, "Age of the Universe in billion years", 38, fontSans, 573, "middle");
    addText(right, 2019, 1011, "redshift", 36, fontSans, 124, "middle");
    addText(right, 0, 0, "Distance Modulus", 38, fontSans, 299, "middle")
        .attr("transform", "translate(1361,512) rotate(-90)");

    // legend
    var lg = right.append("g");
    lg.append("rect").attr("x", 2187).attr("y", 661).attr("width", 427).attr("height", 264).attr("rx", 5)
        .attr("fill", "#fff").attr("fill-opacity", 0.8).attr("stroke", "#ccc").attr("stroke-width", 2);

    var handleX = 2223.6;
    lg.append("line").attr("x1", 2197.5).attr("x2", 2250.5).attr("y1", 680).attr("y2", 680)
        .attr("stroke", "#bf00bf").attr("stroke-width", 4.5).attr("stroke-dasharray", "15.5,7");
    lg.append("line").attr("x1", 2195).attr("x2", 2252).attr("y1", 717).attr("y2", 717)
        .attr("stroke", "#000").attr("stroke-width", 4.5);
    lg.append("line").attr("x1", 2197.5).attr("x2", 2250.5).attr("y1", 753.5).attr("y2", 753.5)
        .attr("stroke", "#0000ff").attr("stroke-width", 4.5).attr("stroke-dasharray", "15.5,7");

    lg.append("line").attr("x1", handleX).attr("x2", handleX).attr("y1", 777).attr("y2", 803)
        .attr("stroke", "#ffd700").attr("stroke-opacity", 0.5).attr("stroke-width", 2.2);
    lg.append("circle").attr("cx", handleX).attr("cy", 790).attr("r", 5)
        .attr("fill", "#eeb500").attr("fill-opacity", 0.5).attr("stroke", "#e8b000").attr("stroke-opacity", 0.3);
    lg.append("line").attr("x1", handleX).attr("x2", handleX).attr("y1", 814).attr("y2", 840)
        .attr("stroke", "#808080").attr("stroke-width", 3);
    lg.append("circle").attr("cx", handleX).attr("cy", 827).attr("r", 6.2)
        .attr("fill", "#808080").attr("stroke", "#000").attr("stroke-width", 2.6);
    lg.append("line").attr("x1", handleX).attr("x2", handleX).attr("y1", 850).attr("y2", 876)
        .attr("stroke", "#00ffff").attr("stroke-width", 2);
    lg.append("circle").attr("cx", handleX).attr("cy", 863).attr("r", 6.2)
        .attr("fill", "#00ffff").attr("stroke", "#87ceeb").attr("stroke-width", 2);
    lg.append("line").attr("x1", handleX).attr("x2", handleX).attr("y1", 887).attr("y2", 913)
        .attr("stroke", "#ff0000").attr("stroke-width", 3.2);
    [887, 913].forEach(function(v) {
        lg.append("line").attr("x1", handleX - 10.5).attr("x2", handleX + 10.5).attr("y1", v).attr("y2", v)
            .attr("stroke", "#ff0000").attr("stroke-width", 2);
    });
    lg.append("circle").attr("cx", handleX).attr("cy", 900).attr("r", 5.5).attr("fill", "#ff0000");

    var flat = addText(lg, 2271, 686, "flat ", 26, fontSans);
    flat.append("tspan").attr("font-family", fontMath).attr("dx", 3).text("Λ");
    flat.append("tspan").text("CDM ");
    flat.append("tspan").attr("font-family", fontMath).attr("dx", 3).text("Ω");
    flat.append("tspan").attr("font-family", fontMath).attr("font-size", 18).attr("dy", 6).text("M");
    flat.append("tspan").attr("font-family", fontMath).attr("dy", -6).attr("dx", 7).text("= 0.3");

    addText(lg, 2271, 726, "third order cosmography RL19", 25, fontSans, 324);
    addText(lg, 2271, 762, "new fourth order cosmography", 25, fontSans, 325);
    addText(lg, 2271, 799, "quasar RL19", 25, fontSans, 133);
    addText(lg, 2271, 836, "gamma ray burst", 25, fontSans, 180);
    addText(lg, 2271, 873, "supernova Ia Pantheon", 25, fontSans, 242);
    addText(lg, 2271, 908, "quasar, average in redshift bins", 25, fontSans, 331);

</script>
